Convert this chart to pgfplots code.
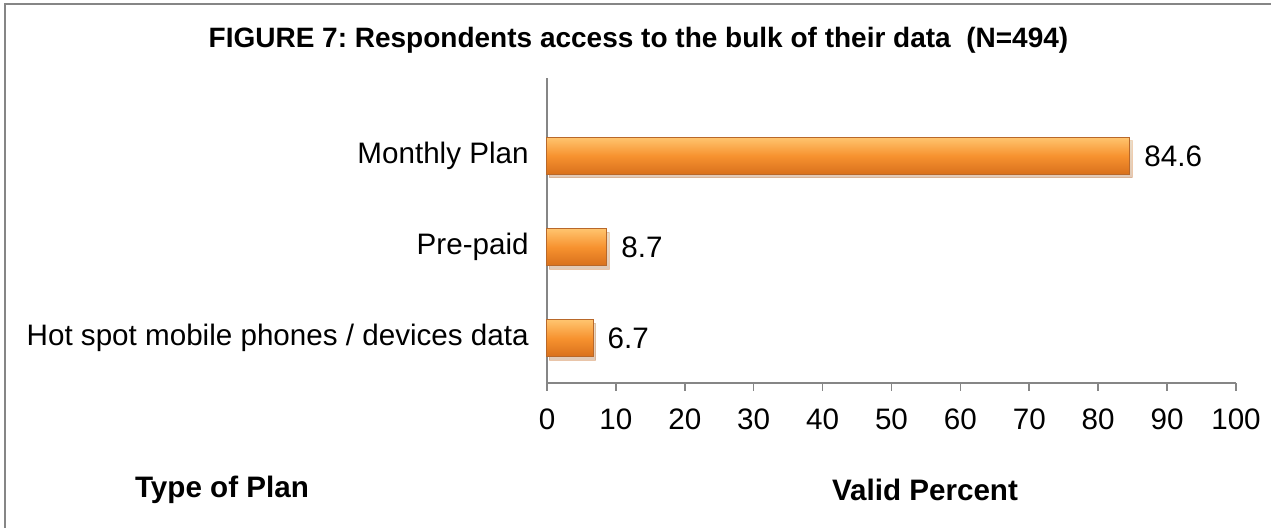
\documentclass[border=0pt]{standalone}
\usepackage{pgfplots}
\pgfplotsset{compat=1.18}
\usetikzlibrary{shadows}
\usepackage{fontspec}
\setmainfont{Liberation Sans}
\definecolor{axgray}{HTML}{868686}
\definecolor{barlight}{HTML}{FFC46E}
\definecolor{barmid}{HTML}{F7922F}
\definecolor{bardark}{HTML}{D8701C}
\definecolor{barborder}{HTML}{B8682A}
\begin{document}
\frenchspacing
\begin{tikzpicture}
\useasboundingbox (-273.5bp,-72.5bp) rectangle (362bp,191.5bp);
\draw[axgray, line width=1.2bp] (-271bp,-72.5bp) -- (-271bp,189.5bp) -- (362bp,189.5bp);
\begin{axis}[
  at={(0,0)}, anchor=south west,
  scale only axis,
  width=344.5bp, height=152.5bp,
  xmin=0, xmax=100,
  ymin=-0.49, ymax=2.854,
  xtick={0,10,...,100},
  ytick={0,1,2},
  yticklabels={Hot spot mobile phones / devices data, Pre-paid, Monthly Plan},
  axis x line*=bottom,
  axis y line*=left,
  axis line style={axgray, line width=0.8bp},
  x axis line style={-},
  y axis line style={-},
  xtick style={axgray, line width=0.8bp},
  major tick length=4bp,
  xtick pos=bottom,
  tick align=outside,
  ytick style={draw=none},
  /pgf/number format/assume math mode=true,
  ticklabel style={font=\fontsize{14.8bp}{17bp}\selectfont, text=black},
  xticklabel style={inner sep=0pt, yshift=-8.5bp, anchor=north},
  yticklabel style={inner sep=0pt, xshift=-5bp, anchor=east},
  clip=false,
  xbar, bar width=18.5bp, bar shift=0pt,
  nodes near coords, point meta=explicit symbolic,
  every node near coord/.append style={font=\fontsize{14.8bp}{17bp}\selectfont, text=black, anchor=west, inner sep=0pt, xshift=7bp},
  barstyle/.style={draw=barborder, line width=0.5bp,
    top color=barlight, bottom color=bardark, middle color=barmid,
    drop shadow={shadow xshift=1.2bp, shadow yshift=-1.8bp, opacity=0.22}},
]
\addplot[barstyle] coordinates {(6.7,0) [6.7]};
\addplot[barstyle] coordinates {(8.7,1) [8.7]};
\addplot[barstyle] coordinates {(84.6,2) [84.6]};
\node[font=\bfseries\fontsize{14bp}{16bp}\selectfont] at (axis description cs:0.1328,1.1246) {FIGURE 7: Respondents access to the bulk of their data\ \ (N=494)};
\end{axis}
\node[font=\bfseries\fontsize{14.8bp}{17bp}\selectfont] at (-162.5bp,-53.5bp) {Type of Plan};
\node[font=\bfseries\fontsize{14.8bp}{17bp}\selectfont] at (189bp,-53.5bp) {Valid Percent};
\end{tikzpicture}
\end{document}
